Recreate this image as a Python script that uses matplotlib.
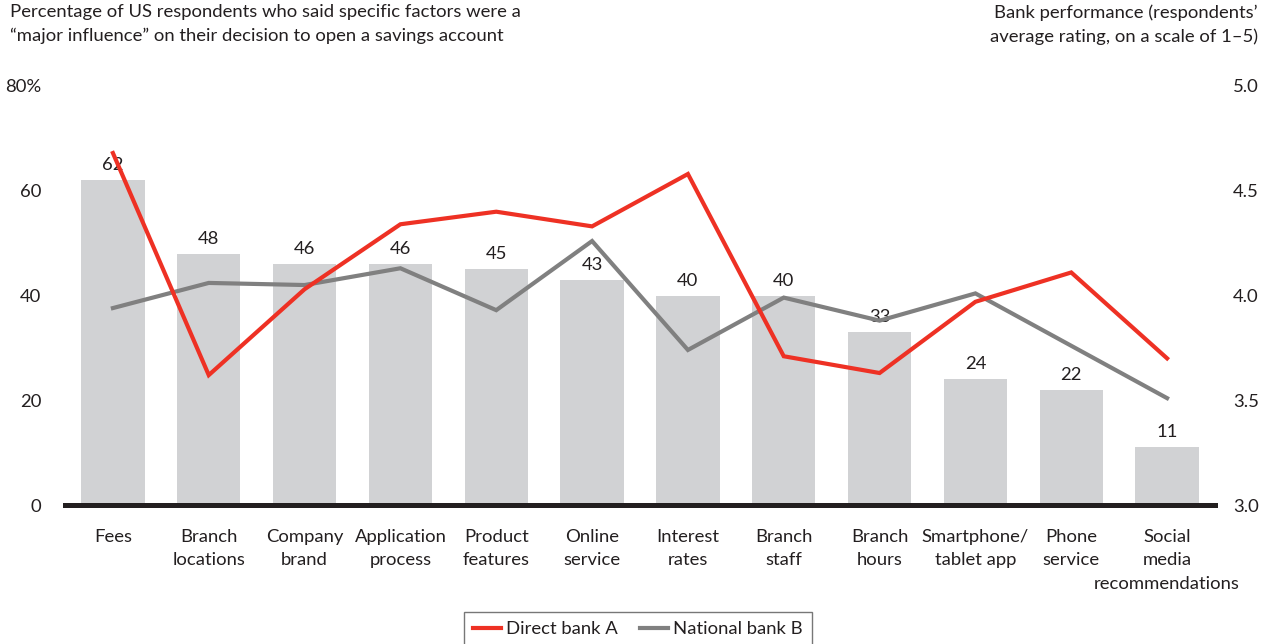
import matplotlib
matplotlib.use("Agg")
import matplotlib.pyplot as plt
from matplotlib.lines import Line2D

plt.rcParams['font.family'] = ['Lato', 'DejaVu Sans']

categories = ["Fees", "Branch\nlocations", "Company\nbrand", "Application\nprocess",
              "Product\nfeatures", "Online\nservice", "Interest\nrates", "Branch\nstaff",
              "Branch\nhours", "Smartphone/\ntablet app", "Phone\nservice",
              "Social\nmedia\nrecommendations"]
influence = [62, 48, 46, 46, 45, 43, 40, 40, 33, 24, 22, 11]
direct_a = [4.68, 3.62, 4.03, 4.34, 4.40, 4.33, 4.58, 3.71, 3.63, 3.97, 4.11, 3.70]
national_b = [3.94, 4.06, 4.05, 4.13, 3.93, 4.26, 3.74, 3.99, 3.88, 4.01, 3.76, 3.51]
left_ticks = [0, 20, 40, 60, 80]
left_labels = ["0", "20", "40", "60", "80%"]
right_ticks = [3.0, 3.5, 4.0, 4.5, 5.0]

txt = "#231F20"
fs = 13.3

fig = plt.figure(figsize=(12.7, 6.44), dpi=100)
ax = fig.add_axes([65/1270, 1-505/644, 1150/1270, 419/644])
ax2 = ax.twinx()

x = range(len(categories))
bars = ax.bar(x, influence, width=0.66, color="#D1D2D4", zorder=1)
ax.bar_label(bars, labels=[str(v) for v in influence], padding=5, fontsize=fs, color=txt)
ax.set_xlim(-0.5, 11.5)
ax.set_ylim(0, 80)
ax.set_yticks(left_ticks)
ax.set_yticklabels(left_labels)
ax.set_xticks(list(x))
ax.set_xticklabels(categories, linespacing=1.6)
ax.tick_params(axis='x', length=0, pad=17, labelsize=fs, labelcolor=txt)
ax.tick_params(axis='y', length=0, pad=17, labelsize=fs, labelcolor=txt)
for s in ['top', 'left', 'right']:
    ax.spines[s].set_visible(False)
ax.spines['bottom'].set_linewidth(3.6)
ax.spines['bottom'].set_color(txt)
ax.spines['bottom'].set_zorder(5)

ax2.plot(x, direct_a, color="#EE3124", lw=3, solid_joinstyle='miter', zorder=3)
ax2.plot(x, national_b, color="#808080", lw=3, solid_joinstyle='miter', zorder=2)
ax2.set_ylim(3.0, 5.0)
ax2.set_yticks(right_ticks)
ax2.set_yticklabels([f"{t:.1f}" for t in right_ticks])
ax2.tick_params(axis='y', length=0, pad=13, labelsize=fs, labelcolor=txt)
for s in ax2.spines.values():
    s.set_visible(False)

fig.text(10/1270, 1-4/644, "Percentage of US respondents who said specific factors were a\n"
         "\u201cmajor influence\u201d on their decision to open a savings account",
         ha='left', va='top', fontsize=fs, color=txt, linespacing=1.55)
fig.text(1258/1270, 1-4/644, "Bank performance (respondents\u2019\n"
         "average rating, on a scale of 1\u20135)",
         ha='right', va='top', fontsize=fs, color=txt, linespacing=1.55)

handles = [Line2D([], [], color="#EE3124", lw=3), Line2D([], [], color="#808080", lw=3)]
leg = fig.legend(handles, ["Direct bank A", "National bank B"], loc='upper center',
                 bbox_to_anchor=(638/1270, 1-603/644), ncol=2, fontsize=fs,
                 frameon=True, fancybox=False, handlelength=1.5, handletextpad=0.3,
                 columnspacing=1.2, borderpad=0.5, borderaxespad=0.5)
leg.get_frame().set_edgecolor("#555555")
leg.get_frame().set_linewidth(1)
for t in leg.get_texts():
    t.set_color(txt)

fig.savefig("out.png", dpi=100)
